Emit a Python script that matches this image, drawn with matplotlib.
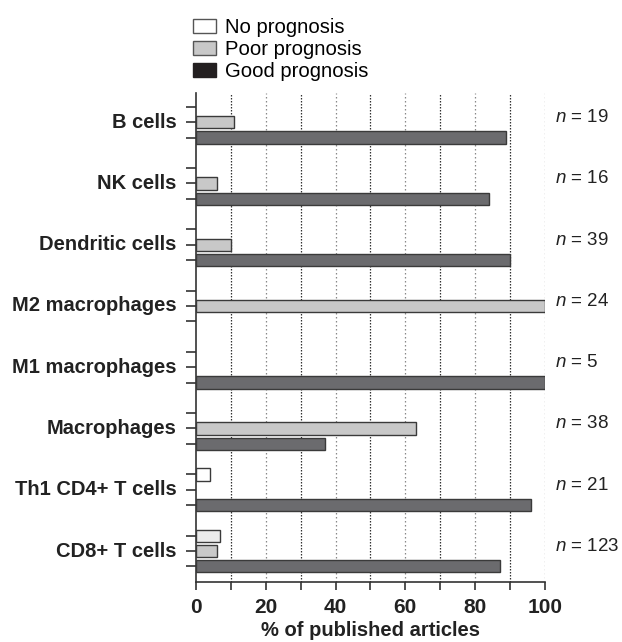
import matplotlib
matplotlib.use("Agg")
import matplotlib.pyplot as plt
from matplotlib.patches import Patch

plt.rcParams['font.family'] = ['Liberation Sans', 'DejaVu Sans']
plt.rcParams['mathtext.fontset'] = 'custom'
plt.rcParams['mathtext.it'] = 'Liberation Sans:italic'

categories = ["B cells", "NK cells", "Dendritic cells", "M2 macrophages",
              "M1 macrophages", "Macrophages", "Th1 CD4+ T cells", "CD8+ T cells"]
no_prog = [0, 0, 0, 0, 0, 0, 4, 7]
poor_prog = [11, 6, 10, 100, 0, 63, 0, 6]
good_prog = [89, 84, 90, 0, 100, 37, 96, 87]
n_counts = [19, 16, 39, 24, 5, 38, 21, 123]
xticks = [0, 20, 40, 60, 80, 100]
series_names = ["No prognosis", "Poor prognosis", "Good prognosis"]

fig = plt.figure(figsize=(6.22, 6.42), dpi=100)
ax = fig.add_axes([0.315, 0.094, 0.561, 0.761])

edge = '#3a3a3a'
c_no = '#ffffff'
c_poor = '#c8c8c8'
c_good = '#6b6b6e'
h = 0.8

# gridlines
for v in range(10, 101, 10):
    if v % 20 == 10:
        ax.axvline(v, color='#333333', lw=0.9, ls=(0, (1.2, 1.2)), zorder=0)
    else:
        ax.axvline(v, color='#888888', lw=0.9, ls=(0, (1.2, 2.0)), zorder=0)

ytick_pos = []
for g, cat in enumerate(categories):
    base = 4 * g
    ytick_pos += [base, base + 1, base + 2]
    if no_prog[g] > 0:
        fc = '#ebebeb' if g == 7 else c_no
        ax.barh(base, no_prog[g], height=h, color=fc, edgecolor=edge, lw=1.0, zorder=3)
    if poor_prog[g] > 0:
        ax.barh(base + 1, poor_prog[g], height=h, color=c_poor, edgecolor=edge, lw=1.0, zorder=3)
    if good_prog[g] > 0:
        ax.barh(base + 2, good_prog[g], height=h, color=c_good, edgecolor=edge, lw=1.0, zorder=3)
    ax.text(102.8, base + 0.7, r"$n$ = %d" % n_counts[g], fontsize=13.5, va='center', ha='left',
            color='#222222')
    ax.text(-5.5, base + 1, cat, fontsize=14.5, fontweight='bold', color='#222222',
            ha='right', va='center')

ax.set_xlim(0, 100)
ax.set_ylim(31, -0.9)
ax.set_yticks(ytick_pos)
ax.set_yticklabels([])
ax.tick_params(axis='y', length=7, width=1.2, color='#333333')

ax.set_xticks(range(0, 101, 10))
ax.set_xticklabels([str(v) if v in xticks else '' for v in range(0, 101, 10)],
                   fontsize=15, fontweight='bold', color='#222222')
ax.tick_params(axis='x', length=6, width=1.2, color='#333333', pad=6)
ax.set_xlabel("% of published articles", fontsize=14.5, fontweight='bold', color='#222222', labelpad=3)

for s in ['top', 'right']:
    ax.spines[s].set_visible(False)
for s in ['left', 'bottom']:
    ax.spines[s].set_color('#333333')
    ax.spines[s].set_linewidth(1.2)

handles = [Patch(facecolor=c_no, edgecolor='#555555', lw=1.0),
           Patch(facecolor=c_poor, edgecolor='#555555', lw=1.0),
           Patch(facecolor='#231f20', edgecolor='#231f20', lw=1.0)]
fig.legend(handles, series_names, loc='upper left', bbox_to_anchor=(0.297, 0.985),
           frameon=False, fontsize=14.6, handlelength=1.13, handleheight=0.7,
           handletextpad=0.44, labelspacing=0.15, borderaxespad=0)

fig.savefig("out.png", dpi=100)
